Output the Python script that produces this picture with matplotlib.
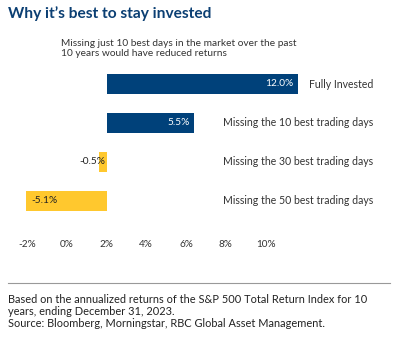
import matplotlib.pyplot as plt

plt.rcParams['font.family'] = ['Lato', 'DejaVu Sans']

# annualized returns, %
labels = ['Fully Invested', 'Missing the 10 best trading days',
          'Missing the 30 best trading days', 'Missing the 50 best trading days']
returns = [12.0, 5.5, -0.5, -5.1]
tick_vals = [-2, 0, 2, 4, 6, 8, 10]
tick_text = ['-2%', '0%', '2%', '4%', '6%', '8%', '10%']

NAVY = '#00417A'
GOLD = '#FFC82E'
TEXT = '#333333'

fig = plt.figure(figsize=(4, 3.45), dpi=100)
fig.patch.set_facecolor('white')

fig.text(0.02, 0.962, 'Why it\u2019s best to stay invested', fontsize=11.2,
         fontweight='bold', color='#0B3F73', va='center', ha='left')
fig.text(0.153, 0.86, 'Missing just 10 best days in the market over the past\n'
         '10 years would have reduced returns', fontsize=7.3, color=TEXT,
         va='center', ha='left', linespacing=1.15)

ax = fig.add_axes([0, 0.3609, 1, 0.4522])
colors = [NAVY if v > 0 else GOLD for v in returns]
ax.barh(range(len(returns)), returns, height=0.51, color=colors)
ax.set_xlim(-107 / 15.9, 293 / 15.9)
ax.set_ylim(3.5, -0.5)

for i, v in enumerate(returns):
    s = '%.1f%%' % v
    if v > 0:
        ax.text(v - 0.3, i, s, color='white', fontsize=7.3, ha='right', va='center')
    elif v > -1:
        ax.text(-0.1, i, s, color='#222222', fontsize=7.3, ha='right', va='center')
    else:
        ax.text(v + 0.35, i, s, color='#222222', fontsize=7.3, ha='left', va='center')
    fig.text(373 / 400, 1 - (84 + 39 * i) / 345, labels[i], fontsize=7.6,
             color=TEXT, ha='right', va='center')

for sp in ax.spines.values():
    sp.set_visible(False)
ax.set_xticks([])
ax.set_yticks([])

# tick scale sits on its own axis under the bars
sec = ax.secondary_xaxis('bottom',
                         functions=(lambda x: (40.3 + 15.9 * x) / 19.9,
                                    lambda t: (19.9 * t - 40.3) / 15.9))
sec.set_xticks(tick_vals)
sec.set_xticklabels(tick_text, fontsize=7.2, color=TEXT)
sec.tick_params(length=0, pad=14)
sec.spines['bottom'].set_visible(False)

fig.add_artist(plt.Line2D([8 / 400, 390 / 400], [1 - 282.7 / 345] * 2,
                          color='#999999', lw=0.8))
fig.text(0.02, 1 - 311.5 / 345,
         'Based on the annualized returns of the S&P 500 Total Return Index for 10\n'
         'years, ending December 31, 2023.\n'
         'Source: Bloomberg, Morningstar, RBC Global Asset Management.',
         fontsize=7.9, color='#222222', va='center', ha='left', linespacing=1.15)

fig.savefig('out.png', dpi=100)
